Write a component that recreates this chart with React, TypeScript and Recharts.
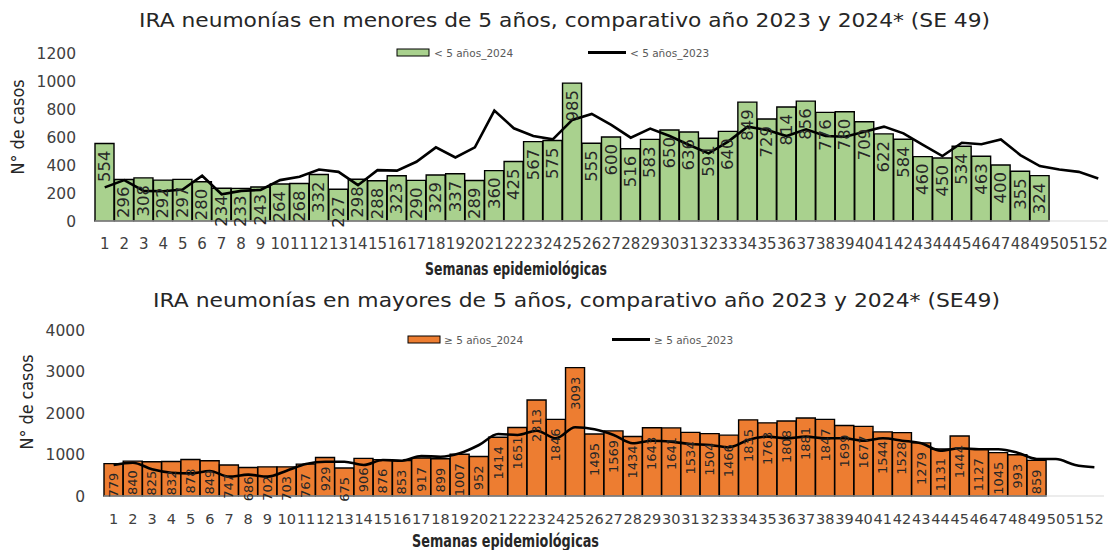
import React from 'react';
import { ComposedChart, Bar, Line, XAxis, YAxis, LabelList } from 'recharts';

const weeks = ['1','2','3','4','5','6','7','8','9','10','11','12','13','14','15','16','17','18','19','20','21','22','23','24','25','26','27','28','29','30','31','32','33','34','35','36','37','38','39','40','41','42','43','44','45','46','47','48','49','50','51','52'];

const under5_2024 = [554,296,308,292,297,280,234,233,243,264,268,332,227,298,288,323,290,329,337,289,360,425,567,575,985,555,600,516,583,650,636,591,640,849,729,814,856,776,780,709,622,584,460,450,534,463,400,355,324];
const under5_2023 = [240,292,215,212,225,323,191,215,222,292,316,368,351,256,363,360,423,526,454,526,789,662,607,583,722,765,686,595,660,607,543,483,567,674,650,607,655,607,602,638,674,626,543,464,559,548,583,471,392,368,351,304];

const over5_2024 = [779,840,825,832,878,849,747,686,702,703,767,929,675,906,876,853,917,899,1007,952,1414,1651,2313,1846,3093,1495,1569,1434,1643,1641,1534,1504,1466,1835,1763,1808,1881,1847,1699,1677,1544,1528,1279,1131,1444,1127,1045,993,859];
const over5_2023 = [747,803,643,562,546,602,466,514,466,610,771,827,827,747,868,851,964,947,1029,1229,1494,1470,1574,1390,1655,1607,1470,1270,1333,1309,1253,1229,1173,1350,1430,1390,1430,1390,1390,1333,1390,1333,1270,1092,1149,1125,1125,1044,892,890,747,692];

const topTicks = [0,200,400,600,800,1000,1200];
const bottomTicks = [0,1000,2000,3000,4000];

const topData = weeks.map((w, i) => ({ week: w, v2024: under5_2024[i] ?? null, v2023: under5_2023[i] }));
const bottomData = weeks.map((w, i) => ({ week: w, v2024: over5_2024[i] ?? null, v2023: over5_2023[i] }));

const FONT = 'DejaVu Sans';

const makeLabel = (fontSize: number, pad: number) => (props: any) => {
  const { x, y, width, value } = props;
  if (value == null) return null;
  const cx = Number(x) + Number(width) / 2;
  const ty = Number(y) + pad;
  return (
    <text
      x={cx}
      y={ty}
      transform={`rotate(-90 ${cx} ${ty})`}
      textAnchor="end"
      dominantBaseline="central"
      fontSize={fontSize}
      fontFamily={FONT}
      fill="#262626"
    >
      {value}
    </text>
  );
};

export default function App() {
  return (
    <div style={{ position: 'absolute', left: 0, top: 0, width: 1108, height: 550, overflow: 'hidden', background: '#fff' }}>
      <div style={{ position: 'absolute', left: 0, top: 0 }}>
        <ComposedChart width={1108} height={285} data={topData} barCategoryGap={0} margin={{ top: 53, right: 0, left: 35, bottom: 34 }}>
          <XAxis dataKey="week" interval={0} tickLine={false} axisLine={{ stroke: '#d9d9d9' }} height={30} tickMargin={11}
            tick={{ fontSize: 15, fontFamily: FONT, fill: '#404040' }} />
          <YAxis domain={[0, 1200]} ticks={topTicks} axisLine={false} tickLine={false} width={60} tickMargin={13}
            tick={{ fontSize: 15.5, fontFamily: FONT, fill: '#404040' }} />
          <Bar dataKey="v2024" fill="#A9D18E" stroke="#000" strokeWidth={1.4} isAnimationActive={false}>
            <LabelList dataKey="v2024" content={makeLabel(16.5, 7)} />
          </Bar>
          <Line dataKey="v2023" type="linear" stroke="#000" strokeWidth={2.6} dot={false} isAnimationActive={false} />
        </ComposedChart>
      </div>
      <div style={{ position: 'absolute', left: 0, top: 280 }}>
        <ComposedChart width={1108} height={270} data={bottomData} barCategoryGap={0} margin={{ top: 50, right: 4, left: 44, bottom: 24 }}>
          <XAxis dataKey="week" interval={0} tickLine={false} axisLine={{ stroke: '#d9d9d9' }} height={30} tickMargin={12}
            tick={{ fontSize: 14.5, fontFamily: FONT, fill: '#404040' }} />
          <YAxis domain={[0, 4000]} ticks={bottomTicks} axisLine={false} tickLine={false} width={60} tickMargin={13}
            tick={{ fontSize: 15.5, fontFamily: FONT, fill: '#404040' }} />
          <Bar dataKey="v2024" fill="#ED7D31" stroke="#000" strokeWidth={1.4} isAnimationActive={false}>
            <LabelList dataKey="v2024" content={makeLabel(13, 9)} />
          </Bar>
          <Line dataKey="v2023" type="monotone" stroke="#000" strokeWidth={2.6} dot={false} isAnimationActive={false} />
        </ComposedChart>
      </div>
      <svg width={1108} height={550} style={{ position: 'absolute', left: 0, top: 0, pointerEvents: 'none' }}>
        <g fontFamily={FONT}>
          <text x={139} y={27} fontSize={20} fill="#262626" textLength={851} lengthAdjust="spacingAndGlyphs">IRA neumonías en menores de 5 años, comparativo año 2023 y 2024* (SE 49)</text>
          <text x={153} y={307} fontSize={20} fill="#262626" textLength={847} lengthAdjust="spacingAndGlyphs">IRA neumonías en mayores de 5 años, comparativo año 2023 y 2024* (SE49)</text>

          <rect x={397} y={49} width={32} height={7} fill="#A9D18E" stroke="#000" strokeWidth={1} />
          <text x={434} y={56.5} fontSize={10.5} fill="#595959">&lt; 5 años_2024</text>
          <line x1={588} y1={52.5} x2={626} y2={52.5} stroke="#000" strokeWidth={3} />
          <text x={630} y={56.5} fontSize={10.5} fill="#595959">&lt; 5 años_2023</text>

          <rect x={408} y={336} width={32} height={7} fill="#ED7D31" stroke="#000" strokeWidth={1} />
          <text x={444} y={343.5} fontSize={10.5} fill="#595959">≥ 5 años_2024</text>
          <line x1={612} y1={339.5} x2={650} y2={339.5} stroke="#000" strokeWidth={3} />
          <text x={654} y={343.5} fontSize={10.5} fill="#595959">≥ 5 años_2023</text>

          <text x={425} y={275} fontSize={17} fontWeight="bold" fill="#262626" textLength={182} lengthAdjust="spacingAndGlyphs">Semanas epidemiológicas</text>
          <text x={412} y={547} fontSize={17} fontWeight="bold" fill="#262626" textLength={187} lengthAdjust="spacingAndGlyphs">Semanas epidemiológicas</text>

          <text x={0} y={0} transform="translate(24 127) rotate(-90)" textAnchor="middle" fontSize={17} fill="#262626" textLength={95} lengthAdjust="spacingAndGlyphs">N° de casos</text>
          <text x={0} y={0} transform="translate(33 402) rotate(-90)" textAnchor="middle" fontSize={17} fill="#262626" textLength={95} lengthAdjust="spacingAndGlyphs">N° de casos</text>
        </g>
      </svg>
    </div>
  );
}
